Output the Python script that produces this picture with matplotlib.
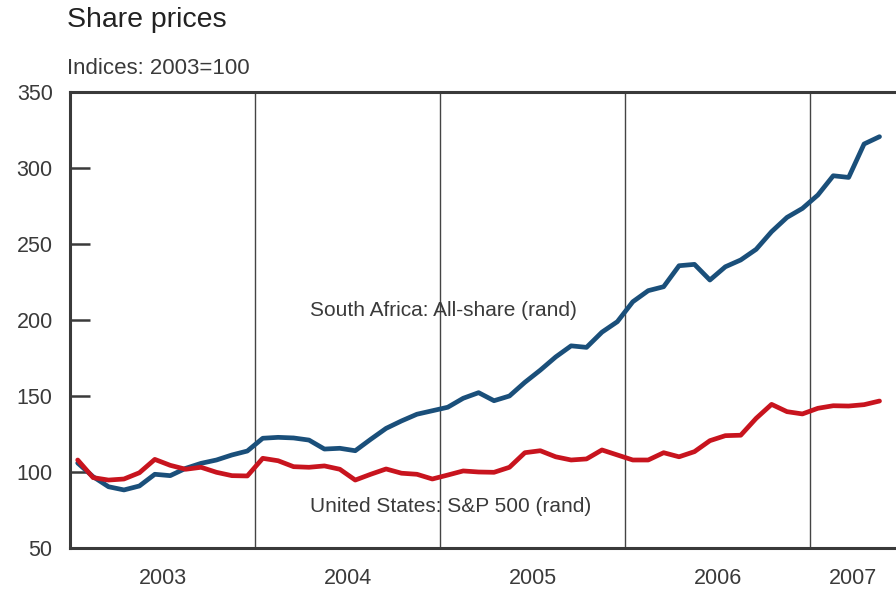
import matplotlib
matplotlib.use("Agg")
import matplotlib.pyplot as plt
import numpy as np

plt.rcParams['font.family'] = ['Liberation Sans', 'DejaVu Sans']

years = ["2003", "2004", "2005", "2006", "2007"]
# Monthly, Jan 2003 - May 2007
south_africa = [105.9, 96.9, 90.3, 88.2, 90.8, 98.5, 97.6, 102.4, 105.7, 107.9, 111.2, 113.8,
                122.2, 122.8, 122.4, 121.0, 115.1, 115.6, 114.0, 121.5, 128.7, 133.6, 138.0, 140.3,
                142.6, 148.5, 152.2, 146.9, 150.0, 159.0, 167.0, 175.7, 183.0, 182.0, 192.0, 198.9,
                212.0, 219.3, 221.9, 235.7, 236.6, 226.3, 235.0, 239.5, 246.5, 258.1, 267.5, 273.4,
                282.2, 294.9, 293.8, 315.8, 320.6]
united_states = [107.9, 96.3, 94.7, 95.4, 99.5, 108.3, 104.4, 101.8, 103.1, 99.8, 97.6, 97.4,
                 109.0, 107.4, 103.5, 103.1, 104.0, 101.8, 94.7, 98.5, 102.0, 99.2, 98.5, 95.4,
                 98.0, 100.7, 100.0, 99.8, 103.1, 112.7, 114.0, 110.0, 107.9, 108.6, 114.5, 111.2,
                 107.9, 107.9, 112.7, 110.0, 113.4, 120.6, 123.9, 124.2, 135.3, 144.5, 139.7, 138.2,
                 141.9, 143.6, 143.4, 144.3, 146.7]

x = np.arange(len(south_africa)) + 0.5
xmax = 53.57

fig = plt.figure(figsize=(8.96, 5.90), dpi=100)
ax = fig.add_axes([70/896, 1-548/590, 1-70/896, (548-92)/590])

dark = '#3a3a3a'
for b in [12, 24, 36, 48]:
    ax.axvline(b, color='#444444', lw=1.0, zorder=1)

ax.plot(x, south_africa, color='#1a4f7a', lw=3.4, solid_capstyle='round', solid_joinstyle='round', zorder=3)
ax.plot(x, united_states, color='#c8141e', lw=3.4, solid_capstyle='round', solid_joinstyle='round', zorder=3)

ax.set_xlim(0, xmax)
ax.set_ylim(50, 350)
ax.set_yticks([50, 100, 150, 200, 250, 300, 350])
ax.tick_params(axis='y', direction='in', length=14.4, width=1.8, color=dark,
               labelsize=15.5, labelcolor=dark, pad=12.5)

ax.set_xticks([])
centers = [6, 18, 30, 42, (48 + xmax) / 2]
for c, yl in zip(centers, years):
    xd = ax.transData.transform((c, 0))[0]
    fig.text(xd / 896, 1 - 578 / 590, yl, ha='center', va='center', fontsize=15.5, color=dark)

for s in ['left', 'bottom', 'top']:
    ax.spines[s].set_linewidth(2.2)
    ax.spines[s].set_color(dark)
ax.spines['right'].set_visible(False)

fig.text(443 / 896, 1 - 310 / 590, "South Africa: All-share (rand)",
         ha='center', va='center', fontsize=15, color=dark)
fig.text(451 / 896, 1 - 507 / 590, "United States: S&P 500 (rand)",
         ha='center', va='center', fontsize=15, color=dark)

fig.text(67 / 896, 1 - 20 / 590, "Share prices", ha='left', va='center', fontsize=20.5, color='#222222')
fig.text(67 / 896, 1 - 68 / 590, "Indices: 2003=100", ha='left', va='center', fontsize=16, color=dark)

fig.savefig("out.png", dpi=100)
